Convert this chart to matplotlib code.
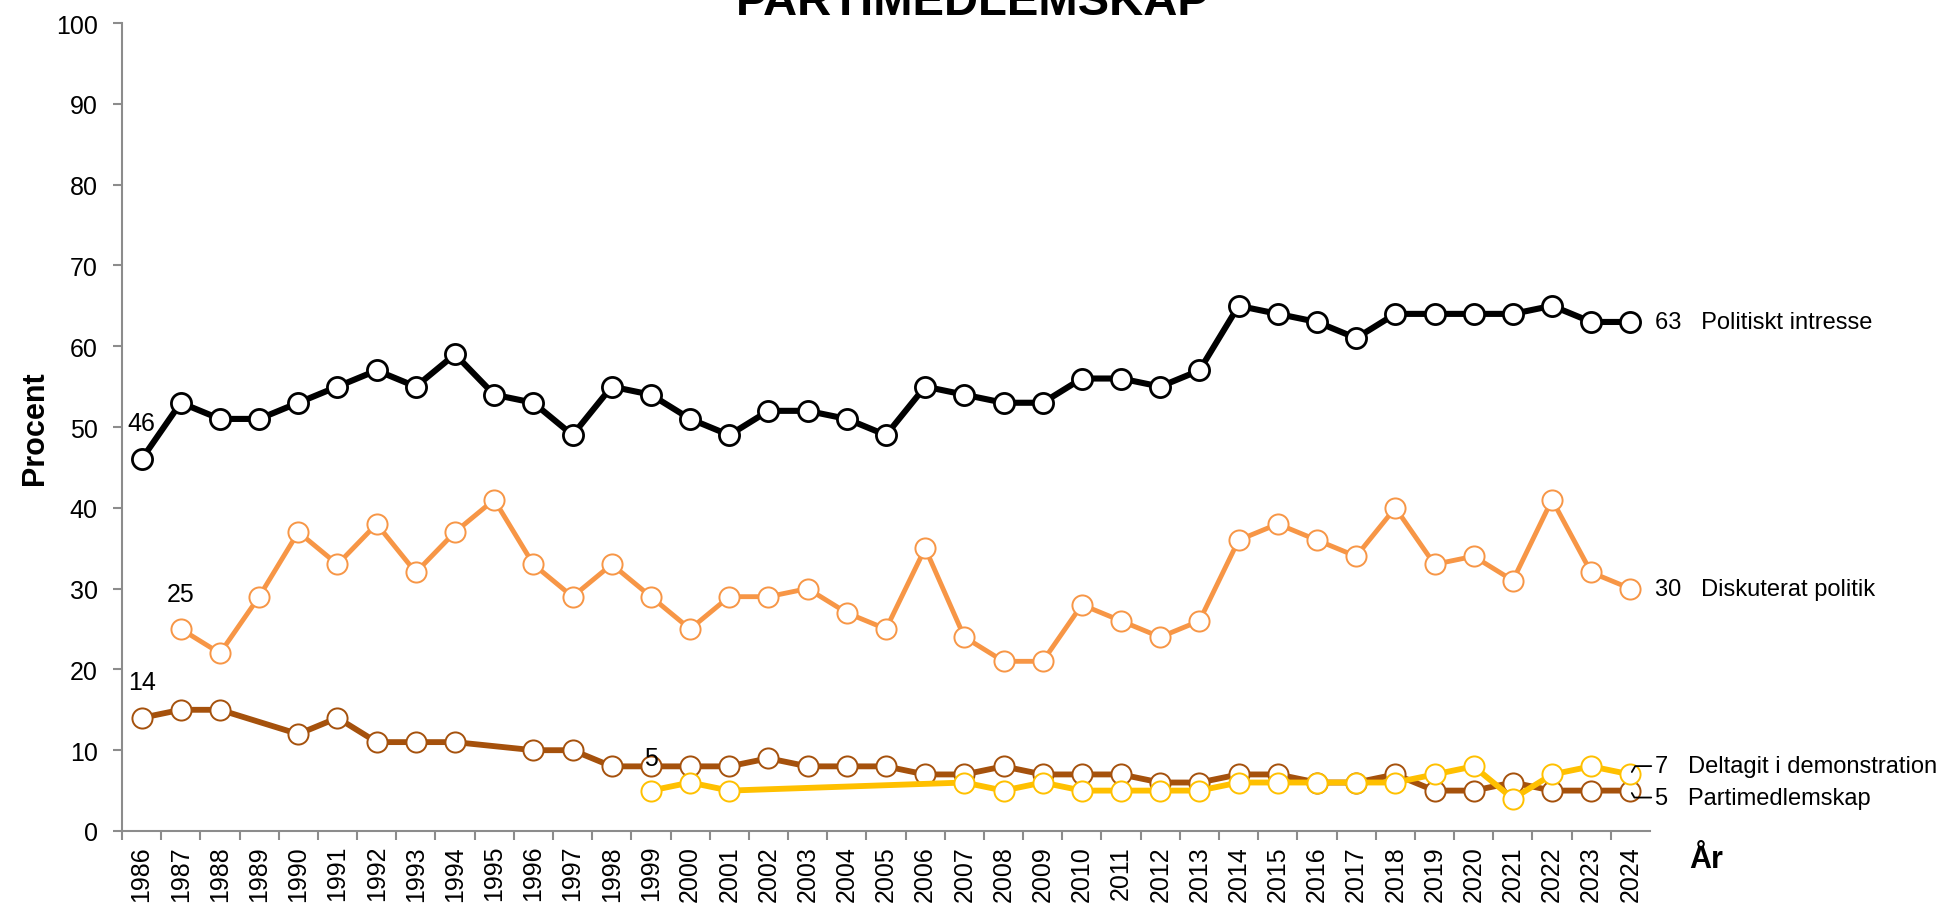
import numpy as np
import matplotlib
matplotlib.use('Agg')
import matplotlib.pyplot as plt

plt.rcParams['font.family'] = ['Liberation Sans', 'DejaVu Sans']

years = list(range(1986, 2025))

intresse = [46, 53, 51, 51, 53, 55, 57, 55, 59, 54, 53, 49, 55, 54, 51, 49, 52, 52, 51, 49,
            55, 54, 53, 53, 56, 56, 55, 57, 65, 64, 63, 61, 64, 64, 64, 64, 65, 63, 63]
diskuterat = [None, 25, 22, 29, 37, 33, 38, 32, 37, 41, 33, 29, 33, 29, 25, 29, 29, 30, 27, 25,
              35, 24, 21, 21, 28, 26, 24, 26, 36, 38, 36, 34, 40, 33, 34, 31, 41, 32, 30]
parti = [14, 15, 15, None, 12, 14, 11, 11, 11, None, 10, 10, 8, 8, 8, 8, 9, 8, 8, 8,
         7, 7, 8, 7, 7, 7, 6, 6, 7, 7, 6, 6, 7, 5, 5, 6, 5, 5, 5]
demonstration = [None] * 13 + [5, 6, 5, None, None, None, None, None, 6, 5, 6, 5, 5, 5, 5,
                               6, 6, 6, 6, 6, 7, 8, 4, 7, 8, 7]

series = [
    ('Politiskt intresse', intresse, 'black', 4.4, 2.0),
    ('Diskuterat politik', diskuterat, '#F79646', 3.5, 1.4),
    ('Partimedlemskap', parti, '#A5510C', 4.2, 1.4),
    ('Deltagit i demonstration', demonstration, '#FFC000', 4.2, 1.4),
]

fig = plt.figure(figsize=(19.45, 9.04), dpi=100)
ax = fig.add_axes([122 / 1945, 72 / 904, (1650 - 122) / 1945, (832 - 24) / 904])

x = np.arange(len(years))
for name, vals, col, lw, mew in series:
    xs = [i for i, v in zip(x, vals) if v is not None]
    ys = [v for v in vals if v is not None]
    ax.plot(xs, ys, color=col, lw=lw, marker='o', ms=14.5, mfc='white',
            mec=col, mew=mew, zorder=3)

ax.set_xlim(-0.5, len(years) - 0.5)
ax.set_ylim(0, 100)
ax.set_yticks(range(0, 101, 10))
ax.set_xticks(x - 0.5, minor=False)
ax.set_xticklabels([])
ax.set_xticks(x, minor=True)
ax.set_xticklabels([str(y) for y in years], minor=True, rotation=90)
ax.tick_params(axis='x', which='major', length=6.5, width=1.5, color='#8c8c8c')
ax.tick_params(axis='x', which='minor', length=0, pad=10, labelsize=18)
ax.tick_params(axis='y', length=6.5, width=1.5, color='#8c8c8c', pad=11, labelsize=18)
for s in ['top', 'right']:
    ax.spines[s].set_visible(False)
for s in ['left', 'bottom']:
    ax.spines[s].set_color('#8c8c8c')
    ax.spines[s].set_linewidth(1.5)

# start labels
ax.text(0, intresse[0] + 3.0, '46', ha='center', va='bottom', fontsize=18)
ax.text(1, diskuterat[1] + 2.8, '25', ha='center', va='bottom', fontsize=18)
ax.text(0, parti[0] + 3.0, '14', ha='center', va='bottom', fontsize=18)
ax.text(13, 7.6, '5', ha='center', va='bottom', fontsize=18)

# end labels
last = len(years) - 1
ax.annotate('63   Politiskt intresse', (last, intresse[-1]), xytext=(18, 0),
            textcoords='offset points', va='center', fontsize=17, annotation_clip=False)
ax.annotate('30   Diskuterat politik', (last, diskuterat[-1]), xytext=(18, 0),
            textcoords='offset points', va='center', fontsize=17, annotation_clip=False)
ax.annotate('7   Deltagit i demonstration', (last, demonstration[-1]), xytext=(18, 6),
            textcoords='offset points', va='center', fontsize=17, annotation_clip=False,
            arrowprops=dict(arrowstyle='-', color='black', lw=1.3, shrinkA=1, shrinkB=2,
                            connectionstyle='angle,angleA=0,angleB=60,rad=0'))
ax.annotate('5   Partimedlemskap', (last, parti[-1]), xytext=(18, -5),
            textcoords='offset points', va='center', fontsize=17, annotation_clip=False,
            arrowprops=dict(arrowstyle='-', color='black', lw=1.3, shrinkA=1, shrinkB=2,
                            connectionstyle='angle,angleA=0,angleB=-60,rad=0'))

fig.text(35 / 1945, 1 - 428 / 904, 'Procent', rotation=90, ha='center', va='center',
         fontsize=22, weight='bold')
fig.text(1706 / 1945, 1 - 860 / 904, 'År', ha='center', va='center',
         fontsize=22, weight='bold')
fig.text(973 / 1945, 1 - 15 / 904, 'PARTIMEDLEMSKAP', ha='center', va='baseline',
         fontsize=34, weight='bold')

plt.savefig('out.png', dpi=100)
